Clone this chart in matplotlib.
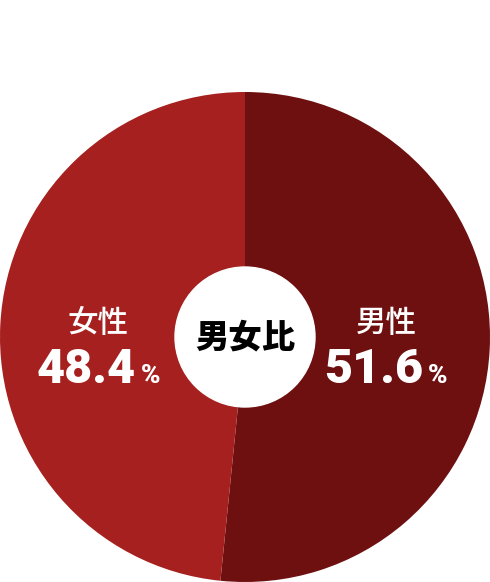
import matplotlib.pyplot as plt
from matplotlib.patches import Circle

plt.rcParams['font.family'] = ['Noto Sans CJK JP', 'DejaVu Sans']

labels = ['男性', '女性']
shares = [51.6, 48.4]
colors = ['#6e0f10', '#a5201e']
title = '男女比'

W, H = 490, 582
fig = plt.figure(figsize=(W / 100, H / 100), dpi=100)
ax = fig.add_axes([0, 0, 1, W / H])
ax.pie(shares, colors=colors, startangle=90, counterclock=False,
       radius=1.0, wedgeprops=dict(linewidth=0))
ax.add_patch(Circle((0, 0), 70 / 245, color='white', zorder=5))
ax.text(0, 0, title, ha='center', va='center', fontsize=24,
        fontweight='black', color='black', zorder=6)
ax.set_xlim(-1, 1)
ax.set_ylim(-1, 1)
ax.set_aspect('equal')
ax.axis('off')


def px(x, y):
    return x / W, 1 - y / H


# label positions in pixels: (name center x, number right edge x)
spots = {'男性': (386, 423), '女性': (98, 136)}
for lab, val in zip(labels, shares):
    cx, rx = spots[lab]
    fig.text(*px(cx, 332), lab, ha='center', va='baseline', fontsize=22,
             fontweight='medium', color='white')
    fig.text(*px(rx, 383), f'{val:.1f}', ha='right', va='baseline',
             fontsize=35, fontweight='black', color='white',
             family=['Roboto', 'DejaVu Sans'])
    fig.text(*px(rx + 5, 383), '%', ha='left', va='baseline',
             fontsize=19, fontweight='black', color='white',
             family=['Roboto', 'DejaVu Sans'])

fig.savefig('out.png', dpi=100)
